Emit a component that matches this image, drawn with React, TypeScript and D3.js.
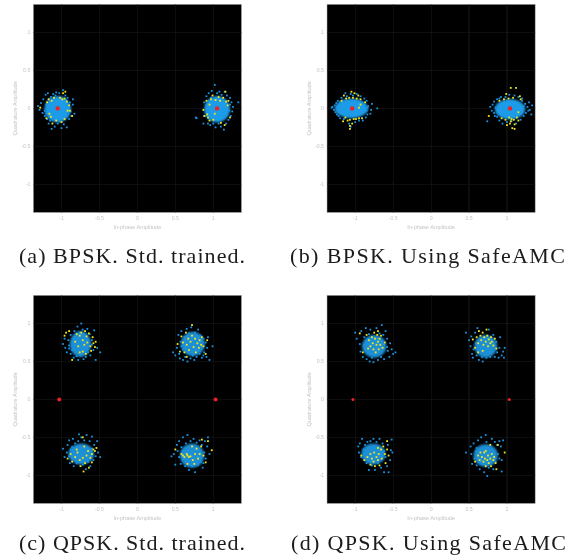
import React from "react";
import * as d3 from "d3";

type P = [number, number];
const tickValues = [-1, -0.5, 0, 0.5, 1];
const tickLabels = ["-1", "-0.5", "0", "0.5", "1"];
const captions = ["(a) BPSK. Std. trained.", "(b) BPSK. Using SafeAMC", "(c) QPSK. Std. trained.", "(d) QPSK. Using SafeAMC"];
const axisLabelX = "In-phase Amplitude";
const axisLabelY = "Quadrature Amplitude";

const aRed: P[] = [[-1.05, 0], [1.05, 0]];
const bRed: P[] = [[-1.04, 0], [1.04, 0]];
const cRed: P[] = [[-1.03, 0], [1.03, 0]];
const dRed: P[] = [[-1.03, 0], [1.03, 0]];

// core: [cx, cy, rx, ry]
const aCores = [[-1.05, -0.01, 0.175, 0.175], [1.05, -0.01, 0.17, 0.175]];
const bCores = [[-1.05, 0, 0.22, 0.13], [1.04, -0.01, 0.2, 0.135]];
const cCores = [[-0.75, 0.73, 0.14, 0.17], [0.73, 0.73, 0.16, 0.16], [-0.74, -0.72, 0.17, 0.14], [0.72, -0.74, 0.16, 0.16]];
const dCores = [[-0.75, 0.7, 0.16, 0.15], [0.72, 0.7, 0.15, 0.15], [-0.76, -0.72, 0.16, 0.14], [0.72, -0.74, 0.16, 0.15]];

const aBlue: P[] = [
  [-1.31,0.03],[-1.29,-0.02],[-1.27,0.07],[-1.25,-0.06],[-1.24,0.12],[-1.22,-0.1],[-1.21,0.18],[-1.19,-0.14],[-1.18,0.2],[-1.17,-0.2],[-1.14,0.15],[-1.13,-0.27],[-1.11,0.19],[-1.09,-0.24],[-1.07,0.21],[-1.05,-0.2],[-1.03,0.2],[-1,-0.26],[-0.98,0.24],[-0.97,-0.21],[-0.95,0.17],[-0.93,-0.25],[-0.92,0.14],[-0.9,-0.14],[-0.89,0.08],[-0.87,-0.1],[-0.85,0.05],[-0.83,-0.07],[-0.85,0.12],[-0.88,-0.04],[-1.2,0.05],[-1.22,-0.03],[-1.2,-0.07],[-1.16,0.12],[-1.15,-0.16],[-0.93,0.05],[-0.92,-0.08],[-0.94,0.11],[-1.08,0.17],[-1.02,-0.17],
  [0.78,-0.13],[0.77,-0.12],[0.87,-0.2],[0.88,0.08],[0.9,-0.1],[0.91,0.16],[0.93,-0.2],[0.94,0.2],[0.96,-0.22],[0.97,0.14],[0.98,0.23],[1,-0.2],[1.02,0.31],[1.03,-0.25],[1.05,0.2],[1.07,-0.2],[1.08,0.22],[1.1,-0.24],[1.11,0.18],[1.14,-0.28],[1.15,0.22],[1.17,-0.2],[1.18,0.17],[1.2,-0.15],[1.22,0.14],[1.23,-0.1],[1.24,0.08],[1.26,0.02],[1.25,-0.04],[1.33,0.08],[1.21,-0.03],[1.22,0.05],[0.91,0.04],[0.92,-0.04],[0.94,0.1],[0.94,-0.13],
];
const aYellow: P[] = [
  [-1.28,0.01],[-1.2,-0.13],[-1.19,0.08],[-1.17,0.12],[-1.16,-0.07],[-1.14,-0.11],[-1.13,0.1],[-1.12,-0.2],[-1.1,0.14],[-1.07,-0.16],[-1.02,0.14],[-0.99,0.12],[-0.98,0.2],[-0.96,0.13],[-0.95,0.22],[-0.93,0.09],[-0.92,-0.03],[-0.9,0.04],[-0.89,-0.03],[-0.86,-0.1],[-1,-0.18],[-0.96,-0.14],
  [0.87,-0.02],[0.88,-0.1],[0.91,0.1],[0.92,-0.08],[0.93,-0.12],[0.95,0.05],[0.95,-0.16],[0.97,0.12],[0.99,0.17],[1.02,-0.07],[1.03,0.11],[1.07,0.15],[1.09,0.1],[1.1,-0.19],[1.13,0.14],[1.15,-0.22],[1.17,0.09],[1.19,0.04],[1.2,0.1],[1.22,-0.12],[1,-0.15],[1.16,0.22],
];
const bBlue: P[] = [
  [-1.31,0.01],[-1.3,0.02],[-1.28,-0.02],[-1.27,0.04],[-1.26,-0.05],[-1.25,0.07],[-1.24,-0.08],[-1.23,0.1],[-1.22,-0.1],[-1.2,0.08],[-1.2,-0.13],[-1.18,0.14],[-1.15,-0.14],[-1.13,0.2],[-1.11,0.16],[-1.08,-0.2],[-1.06,0.19],[-1.03,0.17],[-1,-0.18],[-0.98,0.19],[-0.95,-0.16],[-0.93,0.16],[-0.9,-0.16],[-0.88,0.13],[-0.86,-0.12],[-0.85,0.1],[-0.84,-0.08],[-0.83,0.03],[-0.8,-0.07],[-0.79,-0.02],[-0.78,0.06],[-0.71,0],[-1.24,0.02],[-1.23,-0.03],[-0.84,0.01],[-0.85,-0.03],[-1.06,-0.24],
  [0.78,0.02],[0.8,-0.03],[0.81,0.05],[0.83,-0.06],[0.83,0.09],[0.84,-0.1],[0.85,0.01],[0.87,0.12],[0.87,-0.11],[0.9,0.13],[0.9,-0.16],[0.92,0.15],[0.94,-0.2],[0.98,0.15],[1,-0.18],[1.03,0.18],[1.06,-0.17],[1.1,0.17],[1.12,-0.2],[1.15,0.15],[1.18,-0.15],[1.2,0.1],[1.22,-0.1],[1.24,0.06],[1.25,-0.06],[1.27,0.02],[1.28,-0.03],[1.29,0.08],[1.3,-0.02],[1.32,-0.08],[1.33,0.04],[0.74,-0.17],[1.2,0.13],[1.22,0.03],
];
const bYellow: P[] = [
  [-1.18,0.1],[-1.15,0.17],[-1.13,-0.12],[-1.12,0.13],[-1.1,-0.16],[-1.08,0.14],[-1.07,-0.15],[-1.05,0.22],[-1.04,-0.2],[-1.03,0.14],[-1.02,-0.14],[-1.01,0.2],[-0.99,-0.14],[-0.98,0.13],[-0.96,0.17],[-0.95,-0.13],[-0.93,0.12],[-0.91,-0.13],[-1.07,-0.27],[-1.07,-0.23],[-0.87,0.08],[-0.93,0.05],[-0.95,0.01],[-1.16,-0.17],
  [0.76,-0.1],[0.9,0.1],[0.93,-0.13],[0.96,0.12],[0.98,-0.15],[0.99,0.19],[1,-0.22],[1.02,0.13],[1.03,-0.12],[1.04,-0.2],[1.05,0.27],[1.06,-0.14],[1.07,-0.26],[1.08,0.14],[1.09,-0.15],[1.1,-0.21],[1.12,0.27],[1.13,-0.12],[1.15,-0.16],[1.17,0.16],[1.1,-0.27],[1.05,-0.17],[1.18,0.12],[1.15,-0.05],
];
const cBlue: P[] = [
  [-0.98,0.73],[-0.96,0.8],[-0.95,0.68],[-0.93,0.62],[-0.91,0.78],[-0.9,0.71],[-0.88,0.85],[-0.88,0.6],[-0.86,0.65],[-0.85,0.74],[-0.84,0.55],[-0.83,0.9],[-0.82,0.82],[-0.8,0.57],[-0.79,0.96],[-0.78,0.52],[-0.76,0.88],[-0.75,0.58],[-0.74,1.0],[-0.72,0.92],[-0.71,0.53],[-0.7,0.86],[-0.68,0.56],[-0.66,0.93],[-0.65,0.62],[-0.63,0.86],[-0.62,0.58],[-0.6,0.78],[-0.58,0.65],[-0.57,0.91],[-0.55,0.52],[-0.53,0.68],[-0.49,0.62],[-0.6,0.72],[-0.66,0.68],[-0.9,0.67],[-0.68,0.79],[-0.85,0.66],
  [0.47,0.62],[0.5,0.58],[0.52,0.68],[0.54,0.85],[0.55,0.6],[0.56,0.54],[0.57,0.76],[0.58,0.9],[0.6,0.66],[0.6,0.52],[0.62,0.82],[0.63,0.56],[0.65,0.93],[0.66,0.5],[0.68,0.87],[0.7,0.54],[0.71,0.95],[0.73,0.58],[0.75,0.52],[0.76,0.88],[0.78,0.56],[0.8,0.92],[0.82,0.6],[0.83,0.84],[0.85,0.55],[0.87,0.8],[0.88,0.62],[0.9,0.75],[0.91,0.56],[0.92,0.68],[0.93,0.82],[0.95,0.52],[0.99,0.7],[0.87,0.58],[0.58,0.7],
  [-0.98,-0.65],[-0.96,-0.76],[-0.93,-0.7],[-0.92,-0.6],[-0.9,-0.54],[-0.89,-0.84],[-0.88,-0.66],[-0.86,-0.77],[-0.85,-0.52],[-0.84,-0.88],[-0.82,-0.58],[-0.8,-0.84],[-0.78,-0.55],[-0.77,-0.46],[-0.74,-0.5],[-0.72,-0.86],[-0.7,-0.54],[-0.68,-0.92],[-0.67,-0.47],[-0.65,-0.82],[-0.63,-0.55],[-0.6,-0.49],[-0.58,-0.8],[-0.57,-0.6],[-0.55,-0.75],[-0.53,-0.55],[-0.52,-0.7],[-0.49,-0.76],[-0.6,-0.65],[-0.62,-0.88],[-0.9,-0.75],[-0.86,-0.63],
  [0.45,-0.75],[0.48,-0.72],[0.5,-0.86],[0.52,-0.6],[0.53,-0.68],[0.55,-0.76],[0.55,-0.55],[0.57,-0.85],[0.58,-0.63],[0.6,-0.5],[0.6,-0.79],[0.63,-0.88],[0.64,-0.58],[0.66,-0.47],[0.68,-0.93],[0.7,-0.55],[0.72,-0.88],[0.74,-0.52],[0.76,-0.96],[0.78,-0.57],[0.8,-0.86],[0.82,-0.54],[0.84,-0.82],[0.85,-0.6],[0.86,-0.9],[0.88,-0.7],[0.89,-0.55],[0.9,-0.78],[0.92,-0.62],[0.93,-0.5],[0.95,-0.72],[0.87,-0.84],[0.6,-0.68],
];
const cYellow: P[] = [
  [-0.96,0.84],[-0.94,0.88],[-0.9,0.9],[-0.82,0.76],[-0.8,0.86],[-0.78,0.7],[-0.76,0.84],[-0.74,0.88],[-0.72,0.78],[-0.7,0.72],[-0.69,0.9],[-0.67,0.83],[-0.66,0.75],[-0.64,0.87],[-0.62,0.7],[-0.61,0.64],[-0.59,0.82],[-0.58,0.74],[-0.56,0.69],[-0.55,0.76],[-0.86,0.52],[-0.72,0.63],[-0.68,0.6],[-0.76,0.62],
  [0.53,0.73],[0.56,0.63],[0.58,0.83],[0.6,0.75],[0.62,0.62],[0.64,0.88],[0.65,0.72],[0.67,0.8],[0.68,0.65],[0.7,0.76],[0.72,0.84],[0.74,0.69],[0.76,0.8],[0.77,0.62],[0.79,0.74],[0.81,0.68],[0.82,0.78],[0.84,0.72],[0.85,0.82],[0.87,0.7],[0.9,0.6],[0.92,0.78],[0.65,0.56],[0.72,0.98],
  [-0.92,-0.78],[-0.88,-0.72],[-0.86,-0.82],[-0.82,-0.76],[-0.79,-0.7],[-0.76,-0.8],[-0.75,-0.88],[-0.72,-0.77],[-0.71,-0.95],[-0.69,-0.84],[-0.67,-0.74],[-0.65,-0.68],[-0.64,-0.9],[-0.62,-0.77],[-0.6,-0.72],[-0.58,-0.66],[-0.56,-0.68],[-0.54,-0.64],[-0.72,-0.5],[-0.8,-0.66],[-0.7,-0.62],[-0.6,-0.83],
  [0.5,-0.66],[0.58,-0.72],[0.6,-0.74],[0.62,-0.76],[0.65,-0.72],[0.66,-0.74],[0.68,-0.76],[0.7,-0.75],[0.72,-0.62],[0.73,-0.8],[0.75,-0.85],[0.76,-0.72],[0.78,-0.65],[0.8,-0.78],[0.82,-0.72],[0.84,-0.62],[0.85,-0.53],[0.87,-0.74],[0.9,-0.83],[0.93,-0.55],[0.98,-0.67],[0.66,-0.85],
];
const dBlue: P[] = [
  [-1,0.88],[-0.98,0.8],[-0.94,0.73],[-0.93,0.63],[-0.92,0.9],[-0.9,0.56],[-0.88,0.82],[-0.87,0.66],[-0.86,0.94],[-0.85,0.53],[-0.84,0.75],[-0.82,0.86],[-0.81,0.5],[-0.8,0.92],[-0.78,0.55],[-0.76,0.49],[-0.74,0.6],[-0.72,0.94],[-0.7,0.52],[-0.68,0.87],[-0.66,0.56],[-0.65,0.98],[-0.63,0.85],[-0.62,0.53],[-0.6,0.9],[-0.58,0.8],[-0.57,0.64],[-0.55,0.56],[-0.54,0.74],[-0.52,0.66],[-0.5,0.6],[-0.47,0.62],[-0.58,0.69],[-0.65,0.77],[-0.88,0.72],[-0.62,0.72],
  [0.46,0.88],[0.5,0.78],[0.52,0.7],[0.53,0.83],[0.54,0.6],[0.55,0.55],[0.56,0.66],[0.58,0.88],[0.6,0.58],[0.61,0.94],[0.63,0.52],[0.65,0.68],[0.67,0.56],[0.68,0.5],[0.71,0.6],[0.73,0.55],[0.76,0.92],[0.78,0.56],[0.8,0.62],[0.82,0.85],[0.84,0.56],[0.86,0.76],[0.87,0.62],[0.89,0.55],[0.9,0.68],[0.91,0.82],[0.93,0.58],[0.95,0.63],[0.96,0.55],[0.97,0.68],[0.59,0.74],
  [-0.96,-0.62],[-0.95,-0.7],[-0.94,-0.58],[-0.92,-0.76],[-0.91,-0.52],[-0.89,-0.66],[-0.87,-0.6],[-0.85,-0.84],[-0.84,-0.56],[-0.82,-0.93],[-0.8,-0.55],[-0.78,-0.87],[-0.76,-0.52],[-0.74,-0.93],[-0.72,-0.56],[-0.7,-0.84],[-0.68,-0.52],[-0.66,-0.9],[-0.64,-0.58],[-0.62,-0.96],[-0.6,-0.76],[-0.58,-0.88],[-0.57,-0.6],[-0.56,-0.96],[-0.54,-0.8],[-0.52,-0.53],[-0.51,-0.7],[-0.53,-0.67],[-0.62,-0.68],[-0.88,-0.72],
  [0.46,-0.7],[0.52,-0.62],[0.53,-0.72],[0.54,-0.85],[0.56,-0.58],[0.57,-0.78],[0.59,-0.68],[0.6,-0.87],[0.62,-0.54],[0.64,-0.92],[0.66,-0.5],[0.68,-0.85],[0.7,-0.96],[0.72,-0.47],[0.73,-0.56],[0.74,-1.01],[0.76,-0.9],[0.8,-0.52],[0.82,-0.92],[0.84,-0.56],[0.85,-0.82],[0.87,-0.6],[0.88,-0.72],[0.9,-0.55],[0.92,-0.62],[0.93,-0.8],[0.95,-0.54],[0.93,-0.95],[0.9,-0.78],[0.6,-0.64],
];
const dYellow: P[] = [
  [-0.94,0.87],[-0.9,0.62],[-0.85,0.85],[-0.82,0.78],[-0.8,0.7],[-0.78,0.82],[-0.77,0.74],[-0.75,0.88],[-0.74,0.8],[-0.72,0.72],[-0.71,0.85],[-0.7,0.76],[-0.69,0.66],[-0.68,0.8],[-0.67,0.72],[-0.66,0.84],[-0.76,0.66],[-0.73,0.62],[-0.64,0.68],[-0.7,0.9],[-0.83,0.67],[-0.61,0.75],
  [0.55,0.79],[0.58,0.68],[0.6,0.82],[0.62,0.74],[0.63,0.9],[0.65,0.84],[0.66,0.78],[0.68,0.88],[0.69,0.72],[0.7,0.82],[0.72,0.76],[0.73,0.92],[0.74,0.84],[0.75,0.7],[0.76,0.79],[0.78,0.74],[0.79,0.82],[0.8,0.76],[0.82,0.71],[0.84,0.8],[0.86,0.67],[0.62,0.62],[0.68,0.64],
  [-0.92,-0.74],[-0.88,-0.8],[-0.84,-0.76],[-0.8,-0.72],[-0.78,-0.78],[-0.76,-0.82],[-0.75,-0.7],[-0.74,-0.88],[-0.72,-0.76],[-0.7,-0.8],[-0.69,-0.72],[-0.68,-0.87],[-0.66,-0.66],[-0.65,-0.78],[-0.63,-0.62],[-0.61,-0.72],[-0.6,-0.84],[-0.58,-0.66],[-0.56,-0.74],[-0.58,-0.55],[-0.7,-0.64],[-0.8,-0.86],
  [0.58,-0.82],[0.62,-0.74],[0.64,-0.8],[0.65,-0.7],[0.67,-0.76],[0.69,-0.82],[0.7,-0.7],[0.71,-0.78],[0.72,-0.88],[0.74,-0.8],[0.75,-0.74],[0.76,-0.84],[0.78,-0.78],[0.79,-0.88],[0.8,-0.72],[0.82,-0.8],[0.83,-0.76],[0.85,-0.84],[0.86,-0.92],[0.88,-0.6],[0.97,-0.7],[0.78,-0.6],[0.72,-0.68],
];

const panelBlue = [aBlue, bBlue, cBlue, dBlue];
const panelYellow = [aYellow, bYellow, cYellow, dYellow];
const panelRed = [aRed, bRed, cRed, dRed];
const panelCores = [aCores, bCores, cCores, dCores];
const panelLeft = [33.3, 327, 33.3, 327];
const panelTop = [4.3, 4.3, 295.3, 295.3];
const capX = [19, 290, 19, 291];
const capY = [263, 263, 550, 550];
const capW = [226, 275, 226, 275];
const coreOpacity = [1, 1, 0.92, 0.92];
const coreFilter = ["url(#coreA)", "url(#coreA)", "url(#coreC)", "url(#coreC)"];
const redR = [2.2, 2.2, 2, 1.5];
const SIZE = 208.2;
const MARK = 1.8;

function Panel({ i }: { i: number }) {
  const x = d3.scaleLinear().domain([-1.372, 1.372]).range([panelLeft[i], panelLeft[i] + SIZE]);
  const y = d3.scaleLinear().domain([-1.372, 1.372]).range([panelTop[i] + SIZE, panelTop[i]]);
  const u = x(1) - x(0);
  const tc = "#c4c4c4";
  return (
    <g>
      <rect x={x(-1.372)} y={y(1.372)} width={SIZE} height={SIZE} fill="#000" stroke="#b5b5b5" strokeWidth={0.5} />
      {tickValues.map((t) => (
        <g key={t}>
          <line x1={x(t)} x2={x(t)} y1={y(-1.372)} y2={y(1.372)} stroke="#1d1d1d" strokeWidth={0.6} />
          <line y1={y(t)} y2={y(t)} x1={x(-1.372)} x2={x(1.372)} stroke="#1d1d1d" strokeWidth={0.6} />
        </g>
      ))}
      <g filter={coreFilter[i]}>
        {panelCores[i].map(([cx, cy, rx, ry], k) => (
          <ellipse key={k} cx={x(cx)} cy={y(cy)} rx={rx * u} ry={ry * u} fill="#1f9be8" opacity={coreOpacity[i]} />
        ))}
      </g>
      {panelBlue[i].map(([a, b], k) => (
        <rect key={k} x={x(a) - MARK / 2} y={y(b) - MARK / 2} width={MARK} height={MARK} fill="#1a93e0" />
      ))}
      {panelYellow[i].map(([a, b], k) => (
        <rect key={k} x={x(a) - MARK / 2} y={y(b) - MARK / 2} width={MARK} height={MARK} fill="#f2e81c" />
      ))}
      {panelRed[i].map(([a, b], k) => (
        <circle key={k} cx={x(a)} cy={y(b)} r={redR[i]} fill="#ec2027" />
      ))}
      {tickValues.map((t, k) => (
        <g key={t} fontFamily="Liberation Sans" fontSize={5.2} fill={tc}>
          <text x={x(t)} y={y(-1.372) + 7.5} textAnchor="middle">{tickLabels[k]}</text>
          <text x={x(-1.372) - 3} y={y(t) + 1.8} textAnchor="end">{tickLabels[k]}</text>
        </g>
      ))}
      <text x={x(0)} y={y(-1.372) + 16.5} textAnchor="middle" fontFamily="Liberation Sans" fontSize={5.6} fill={tc}>{axisLabelX}</text>
      <text transform={`translate(${x(-1.372) - 16.5},${y(0)}) rotate(-90)`} textAnchor="middle" fontFamily="Liberation Sans" fontSize={5.6} fill={tc}>{axisLabelY}</text>
      <text x={capX[i]} y={capY[i]} textLength={capW[i]} lengthAdjust="spacing" fontFamily="Liberation Serif" fontSize={22} fill="#1a1a1a">{captions[i]}</text>
    </g>
  );
}

export default function App() {
  return (
    <svg width={569} height={559} style={{ position: "absolute", left: 0, top: 0, background: "#fff" }}>
      <defs>
        <filter id="soft" x="0" y="0" width="100%" height="100%">
          <feGaussianBlur stdDeviation={0.3} />
        </filter>
        <filter id="coreA" x="-10%" y="-10%" width="120%" height="120%">
          <feGaussianBlur stdDeviation={0.9} />
        </filter>
        <filter id="coreC" x="-10%" y="-10%" width="120%" height="120%">
          <feGaussianBlur stdDeviation={1.3} />
        </filter>
      </defs>
      <g filter="url(#soft)">
        {[0, 1, 2, 3].map((i) => <Panel key={i} i={i} />)}
      </g>
    </svg>
  );
}
